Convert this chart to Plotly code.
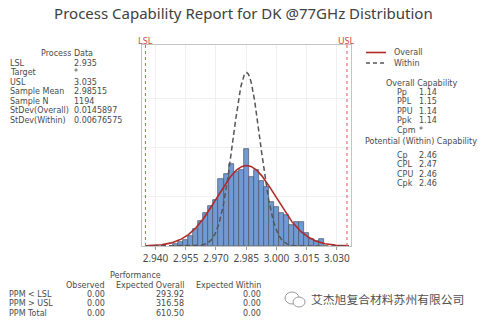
import numpy as np
import plotly.graph_objects as go

# ---- data -------------------------------------------------------------
bin_mid = [2.950, 2.9525, 2.955, 2.9575, 2.960, 2.9625, 2.965, 2.9675, 2.970, 2.9725,
           2.975, 2.9775, 2.980, 2.9825, 2.985, 2.9875, 2.990, 2.9925, 2.995, 2.9975,
           3.000, 3.0025, 3.005, 3.0075, 3.010, 3.0125, 3.015, 3.0175, 3.020, 3.0225]
bin_count = [2, 4, 6, 10, 17, 25, 34, 41, 47, 68,
             73, 83, 75, 77, 98, 70, 77, 66, 60, 45,
             40, 33, 31, 21, 24, 24, 13, 7, 5, 7]
bin_width = 0.0025

LSL, USL = 2.935, 3.035
mean = 2.98515
n_obs = 1194
sd_overall = 0.0145897
sd_within = 0.00676575

x_ticks = [2.940, 2.955, 2.970, 2.985, 3.000, 3.015, 3.030]
x_tick_text = ["2.940", "2.955", "2.970", "2.985", "3.000", "3.015", "3.030"]

process_labels = ["LSL", "Target", "USL", "Sample Mean", "Sample N", "StDev(Overall)", "StDev(Within)"]
process_values = ["2.935", "*", "3.035", "2.98515", "1194", "0.0145897", "0.00676575"]

overall_labels = ["Pp", "PPL", "PPU", "Ppk", "Cpm"]
overall_values = ["1.14", "1.15", "1.14", "1.14", "*"]
within_labels = ["Cp", "CPL", "CPU", "Cpk"]
within_values = ["2.46", "2.47", "2.46", "2.46"]

perf_columns = ["Observed", "Expected Overall", "Expected Within"]
perf_rows = ["PPM < LSL", "PPM > USL", "PPM Total"]
perf_observed = ["0.00", "0.00", "0.00"]
perf_exp_overall = ["293.92", "316.58", "610.50"]
perf_exp_within = ["0.00", "0.00", "0.00"]

watermark = "艾杰旭复合材料苏州有限公司"

# ---- layout geometry ----------------------------------------------------
W, H = 482, 324
ML, MR, MT, MB = 142, 131, 45, 78
PW, PH = W - ML - MR, H - MT - MB
x_range = [2.9333, 3.0370]
y_range = [0, 204]

FONT = "Noto Sans"
SMALL = "DejaVu Sans"
TXT = "#4a4a4a"


def px(x):
    return (x - ML) / PW


def py(y):
    return (H - MB - y) / PH


def normal_counts(x, mu, sd):
    return n_obs * bin_width * np.exp(-0.5 * ((x - mu) / sd) ** 2) / (sd * np.sqrt(2 * np.pi))


xs = np.linspace(x_range[0] + 0.0015, x_range[1] - 0.001, 400)

fig = go.Figure()
fig.add_trace(go.Bar(
    x=bin_mid, y=bin_count, width=bin_width,
    marker=dict(color="#7199d2", line=dict(color="#4a5568", width=0.7)),
    showlegend=False, hoverinfo="skip"))
fig.add_trace(go.Scatter(
    x=xs, y=normal_counts(xs, mean, sd_overall), mode="lines",
    line=dict(color="#b02a2a", width=1.6), showlegend=False, hoverinfo="skip"))
fig.add_trace(go.Scatter(
    x=xs, y=normal_counts(xs, mean, sd_within), mode="lines",
    line=dict(color="#555555", width=1.5, dash="5px,3px"), showlegend=False, hoverinfo="skip"))

shapes = []
for v in (LSL, USL):
    shapes.append(dict(type="line", xref="x", yref="paper", x0=v, x1=v, y0=0, y1=1,
                       line=dict(color="#e05555", width=1, dash="dot")))

# legend samples
shapes.append(dict(type="line", xref="paper", yref="paper", x0=px(366), x1=px(386),
                   y0=py(52.5), y1=py(52.5), line=dict(color="#b02a2a", width=1.6)))
shapes.append(dict(type="line", xref="paper", yref="paper", x0=px(366), x1=px(386),
                   y0=py(63), y1=py(63), line=dict(color="#555555", width=1.5, dash="4px,3px")))

# watermark icon (two chat bubbles)
shapes.append(dict(type="circle", xref="paper", yref="paper", x0=px(285), x1=px(299),
                   y0=py(304), y1=py(292), line=dict(color="#9a9a9a", width=1)))
shapes.append(dict(type="circle", xref="paper", yref="paper", x0=px(293), x1=px(305),
                   y0=py(307), y1=py(297), line=dict(color="#9a9a9a", width=1),
                   fillcolor="white"))

ann = []


def text(x, y, s, anchor="left", size=8, color=TXT, family=SMALL):
    ann.append(dict(xref="paper", yref="paper", x=px(x), y=py(y), text=s, showarrow=False,
                    xanchor=anchor, yanchor="middle", borderpad=0,
                    font=dict(family=family, size=size, color=color)))


# spec limit labels
text(145.7, 40, "LSL", anchor="center", size=9, color="#c84646", family=FONT)
text(346.7, 40, "USL", anchor="center", size=9, color="#c84646", family=FONT)

# process data block
text(67, 53.5, "Process Data", anchor="center")
for i, (lab, val) in enumerate(zip(process_labels, process_values)):
    yy = 63 + i * 9.5
    text(9, yy, lab)
    text(73, yy, val)

# legend labels
text(393, 52.5, "Overall")
text(393, 63, "Within")

# capability blocks
text(421, 83, "Overall Capability", anchor="center")
for i, (lab, val) in enumerate(zip(overall_labels, overall_values)):
    yy = 92.5 + i * 9.4
    text(396, yy, lab)
    text(418, yy, val)
text(421, 141.5, "Potential (Within) Capability", anchor="center")
for i, (lab, val) in enumerate(zip(within_labels, within_values)):
    yy = 155.5 + i * 9.4
    text(396, yy, lab)
    text(418, yy, val)

# performance table
text(135, 275.5, "Performance", anchor="center")
col_right = [106, 185, 262]
for c, name in enumerate(perf_columns):
    text(col_right[c], 285, name, anchor="right")
for r, lab in enumerate(perf_rows):
    yy = 294.5 + r * 9.4
    text(8, yy, lab)
    text(col_right[0], yy, perf_observed[r], anchor="right")
    text(col_right[1], yy, perf_exp_overall[r], anchor="right")
    text(col_right[2], yy, perf_exp_within[r], anchor="right")

# watermark
text(310, 298, watermark, anchor="left", size=11.8, color="#505050", family="Noto Sans CJK SC")

fig.update_layout(
    width=W, height=H,
    margin=dict(l=ML, r=MR, t=MT, b=MB, pad=0),
    paper_bgcolor="white", plot_bgcolor="white",
    bargap=0,
    title=dict(text="Process Capability Report for DK @77GHz Distribution",
               x=0.505, xanchor="center", y=1 - 13.5 / H, yanchor="middle", yref="container",
               font=dict(family=FONT, size=15, color="#404040")),
    shapes=shapes, annotations=ann,
)
fig.update_xaxes(range=x_range, tickvals=x_ticks, ticktext=x_tick_text,
                 showgrid=True, gridcolor="#f0f0f0", gridwidth=1,
                 showline=True, linecolor="#c4c4c4", linewidth=1, mirror=True,
                 ticks="outside", ticklen=3, tickcolor="#999999",
                 tickfont=dict(family=FONT, size=10, color=TXT), zeroline=False)
fig.update_yaxes(range=y_range, tickvals=[50, 100, 150], showticklabels=False,
                 showgrid=True, gridcolor="#f0f0f0", gridwidth=1,
                 showline=True, linecolor="#c4c4c4", linewidth=1, mirror=True,
                 ticks="", zeroline=False)

fig.write_html("out.html")
